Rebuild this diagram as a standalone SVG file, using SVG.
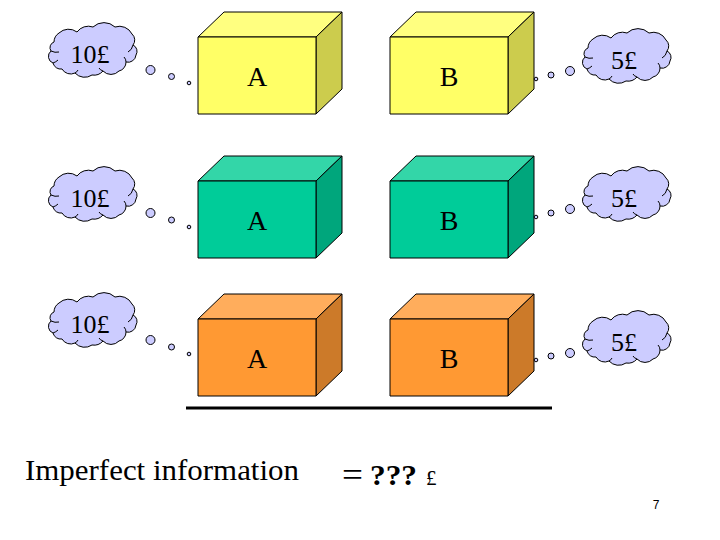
<svg xmlns="http://www.w3.org/2000/svg" width="720" height="540" viewBox="0 0 720 540">
<style>
.o{stroke:#000;stroke-width:1;stroke-linejoin:round}
.y1{fill:#ffff66}.y2{fill:#ffff80}.y3{fill:#cccc4d}
.g1{fill:#00cc99}.g2{fill:#33d6a8}.g3{fill:#00a67c}
.r1{fill:#ff9933}.r2{fill:#ffad5c}.r3{fill:#cc7a29}
.c{fill:#ccccff;stroke:#000;stroke-width:1}
.n{fill:none;stroke:#000;stroke-width:1}
text{font-family:"Liberation Serif","Times New Roman",serif;fill:#000}
.l{font-size:28px;text-anchor:middle}
.m{font-size:26px;text-anchor:middle}
</style>
<defs>
<g id="cl"><path class="c" d="M5 39A7 7 0 0 1 3 27A6 6 0 0 1 6 18A11 11 0 0 1 11 9A14 14 0 0 1 29 8A14 14 0 0 1 45 3A16 16 0 0 1 67 3A14 14 0 0 1 84 10A8 8 0 0 1 85 21A7 7 0 0 1 88 31A8 8 0 0 1 78 38A9 9 0 0 1 71 47A11 11 0 0 1 55 47A12 12 0 0 1 44 51A13 13 0 0 1 27 49A10 10 0 0 1 14 45A8 8 0 0 1 5 39Z"/><path class="n" d="M3 27Q7 29 11 28M5 39Q8 38 10 36M85 21Q84 26 80 28M78 38Q78 35 76 33M55 47Q52 46 51 44M27 49Q29 48 30 46"/></g>
</defs>
<g id="connectors">
<path d="M186 408H552" stroke="#000" stroke-width="3" fill="none"/>
</g>
<g id="box-a1"><path class="o y2" d="M198 37L224 12H342L316 37Z"/><path class="o y3" d="M316 37L342 12V89L316 114Z"/><rect class="o y1" x="198" y="37" width="118" height="77"/><text class="l" x="257" y="86">A</text></g>
<g id="box-b1"><path class="o y2" d="M390 37L416 12H534L508 37Z"/><path class="o y3" d="M508 37L534 12V89L508 114Z"/><rect class="o y1" x="390" y="37" width="118" height="77"/><text class="l" x="449" y="86">B</text></g>
<g id="box-a2"><path class="o g2" d="M198 181L224 156H342L316 181Z"/><path class="o g3" d="M316 181L342 156V233L316 258Z"/><rect class="o g1" x="198" y="181" width="118" height="77"/><text class="l" x="257" y="230">A</text></g>
<g id="box-b2"><path class="o g2" d="M390 181L416 156H534L508 181Z"/><path class="o g3" d="M508 181L534 156V233L508 258Z"/><rect class="o g1" x="390" y="181" width="118" height="77"/><text class="l" x="449" y="230">B</text></g>
<g id="box-a3"><path class="o r2" d="M198 319L224 294H342L316 319Z"/><path class="o r3" d="M316 319L342 294V371L316 396Z"/><rect class="o r1" x="198" y="319" width="118" height="77"/><text class="l" x="257" y="368">A</text></g>
<g id="box-b3"><path class="o r2" d="M390 319L416 294H534L508 319Z"/><path class="o r3" d="M508 319L534 294V371L508 396Z"/><rect class="o r1" x="390" y="319" width="118" height="77"/><text class="l" x="449" y="368">B</text></g>
<g id="cloud-l1"><use href="#cl" x="48" y="24"/><circle class="c" cx="150.500" cy="70" r="4.500"/><circle class="c" cx="171.500" cy="76.500" r="3"/><circle class="c" cx="189" cy="83" r="1.800"/><text class="m" x="90" y="63">10£</text></g>
<g id="cloud-l2"><use href="#cl" x="48" y="168"/><circle class="c" cx="150.500" cy="213" r="4.500"/><circle class="c" cx="171.500" cy="220" r="3"/><circle class="c" cx="189" cy="227" r="1.800"/><text class="m" x="90" y="207">10£</text></g>
<g id="cloud-l3"><use href="#cl" x="48" y="294"/><circle class="c" cx="150.500" cy="340" r="4.500"/><circle class="c" cx="171.500" cy="347" r="3"/><circle class="c" cx="189" cy="354" r="1.800"/><text class="m" x="90" y="333">10£</text></g>
<g id="cloud-r1"><use href="#cl" x="582" y="30"/><circle class="c" cx="570" cy="71" r="4.500"/><circle class="c" cx="551" cy="75" r="3"/><circle class="c" cx="536" cy="79" r="1.800"/><text class="m" x="624" y="69">5£</text></g>
<g id="cloud-r2"><use href="#cl" x="582" y="168"/><circle class="c" cx="570" cy="209" r="4.500"/><circle class="c" cx="551" cy="213" r="3"/><circle class="c" cx="536" cy="217" r="1.800"/><text class="m" x="624" y="207">5£</text></g>
<g id="cloud-r3"><use href="#cl" x="582" y="312"/><circle class="c" cx="570" cy="353" r="4.500"/><circle class="c" cx="551" cy="356" r="3"/><circle class="c" cx="536" cy="360" r="1.800"/><text class="m" x="624" y="351">5£</text></g>
<g id="caption">
<text x="25" y="480" font-size="29" textLength="274" lengthAdjust="spacingAndGlyphs">Imperfect information</text>
<text x="342" y="486" font-size="34" textLength="21" lengthAdjust="spacingAndGlyphs">=</text>
<text x="370" y="485" font-size="30" font-weight="bold" textLength="47" lengthAdjust="spacingAndGlyphs">???</text>
<text x="426" y="485" font-size="21">£</text>
<text x="656" y="509" font-size="12" text-anchor="middle" style="font-family:'Liberation Sans',Arial,sans-serif">7</text>
</g>
</svg>
